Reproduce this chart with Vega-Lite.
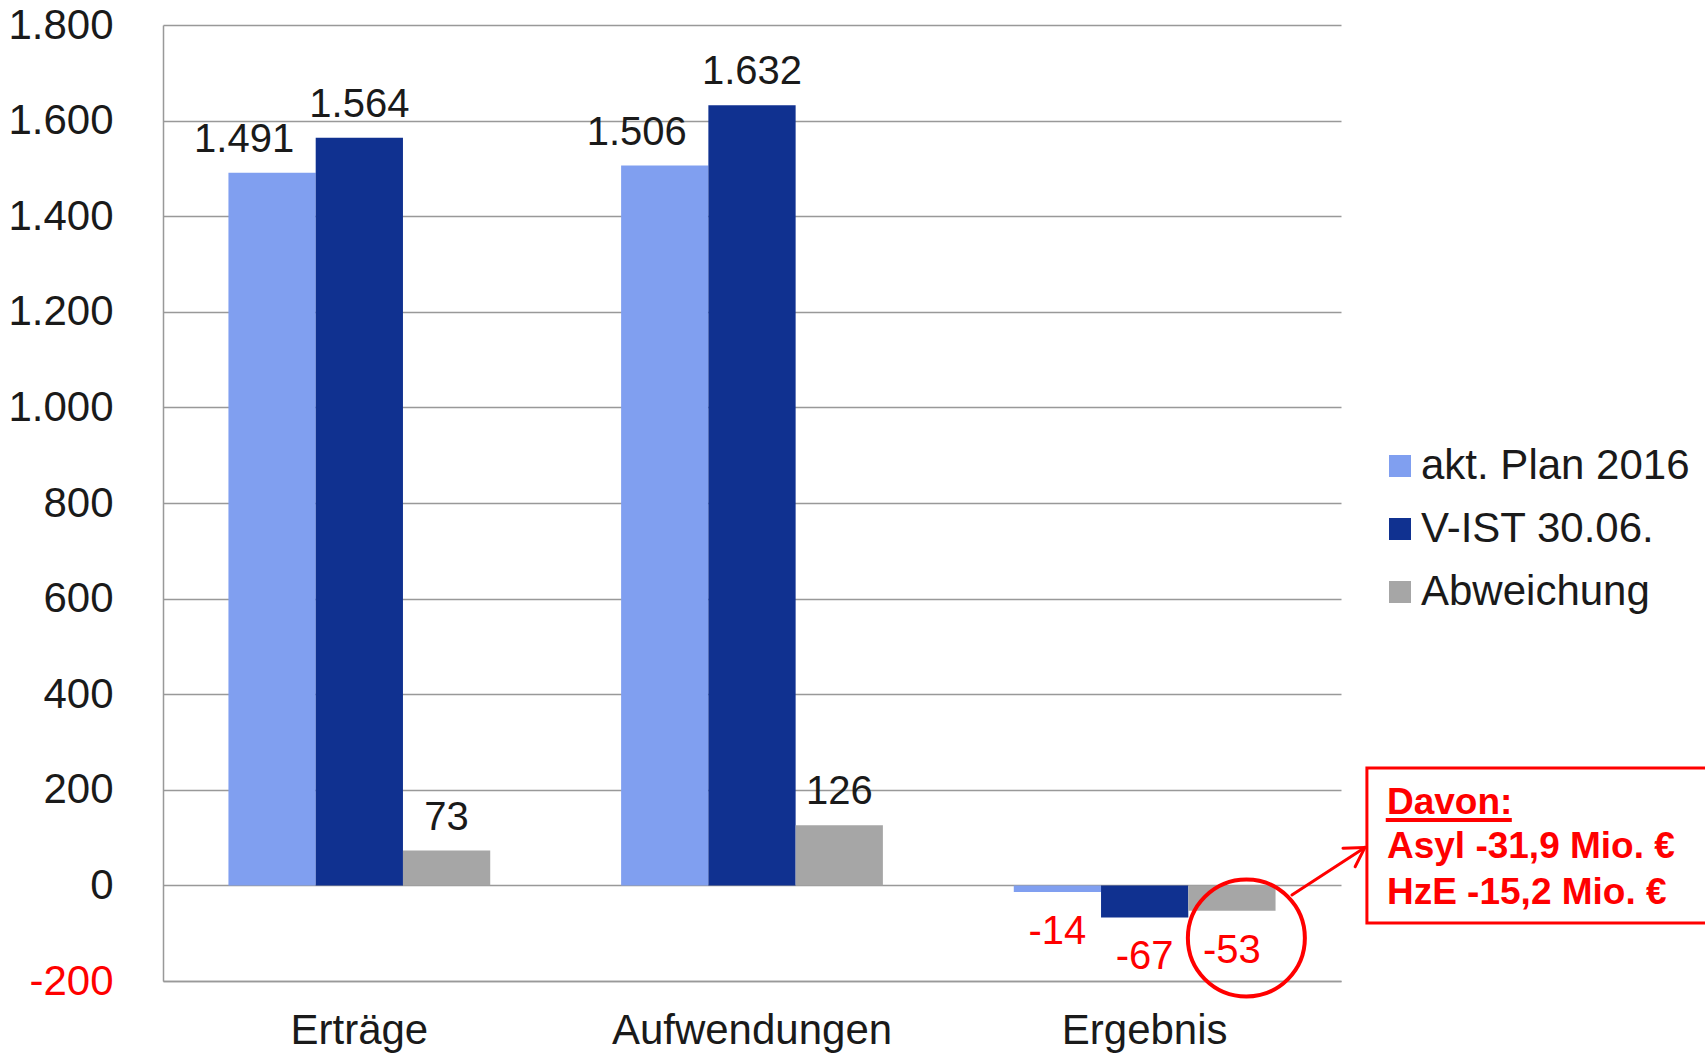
{
  "$schema": "https://vega.github.io/schema/vega-lite/v6.json",
  "width": 1178,
  "height": 956,
  "autosize": {"type": "none"},
  "padding": {"left": 163, "top": 25, "right": 364, "bottom": 73},
  "background": "white",
  "config": {
    "locale": {"number": {"decimal": ",", "thousands": ".", "grouping": [3], "currency": ["", " €"], "minus": "-"}},
    "font": "Liberation Sans",
    "view": {"stroke": null},
    "legend": {
      "orient": "none",
      "legendX": 1216,
      "legendY": 420,
      "direction": "vertical",
      "padding": 0,
      "labelFont": "Liberation Sans",
      "labelFontSize": 42,
      "labelColor": "#1a1a1a",
      "labelOffset": 0,
      "symbolType": "square",
      "symbolSize": 484,
      "symbolStrokeWidth": 0,
      "rowPadding": 21,
      "labelLimit": 400
    }
  },
  "layer": [
    {
      "data": {"values": [
        {"Kategorie": "Erträge", "Reihe": "akt. Plan 2016", "Wert": 1491},
        {"Kategorie": "Erträge", "Reihe": "V-IST 30.06.", "Wert": 1564},
        {"Kategorie": "Erträge", "Reihe": "Abweichung", "Wert": 73},
        {"Kategorie": "Aufwendungen", "Reihe": "akt. Plan 2016", "Wert": 1506},
        {"Kategorie": "Aufwendungen", "Reihe": "V-IST 30.06.", "Wert": 1632},
        {"Kategorie": "Aufwendungen", "Reihe": "Abweichung", "Wert": 126},
        {"Kategorie": "Ergebnis", "Reihe": "akt. Plan 2016", "Wert": -14},
        {"Kategorie": "Ergebnis", "Reihe": "V-IST 30.06.", "Wert": -67},
        {"Kategorie": "Ergebnis", "Reihe": "Abweichung", "Wert": -53}
      ]},
      "encoding": {
        "x": {
          "field": "Kategorie", "type": "nominal",
          "sort": ["Erträge", "Aufwendungen", "Ergebnis"],
          "scale": {"domain": ["Erträge", "Aufwendungen", "Ergebnis"], "paddingInner": 0, "paddingOuter": 0},
          "axis": {
            "title": null, "labelAngle": 0, "ticks": false,
            "domainColor": "#999999", "domainWidth": 1.5,
            "labelFont": "Liberation Sans", "labelFontSize": 42, "labelColor": "#1a1a1a",
            "labelPadding": 29, "labelLimit": 400
          }
        },
        "y": {
          "field": "Wert", "type": "quantitative",
          "scale": {"domain": [-200, 1800], "nice": false, "zero": false},
          "axis": {
            "title": null, "values": [-200, 0, 200, 400, 600, 800, 1000, 1200, 1400, 1600, 1800],
            "format": ",.0f", "ticks": false,
            "domainColor": "#999999", "domainWidth": 1.5,
            "gridColor": "#999999", "gridWidth": 1.5,
            "labelFont": "Liberation Sans", "labelFontSize": 42,
            "labelColor": {"condition": {"test": "datum.value < 0", "value": "#ff0000"}, "value": "#1a1a1a"},
            "labelPadding": 50
          }
        },
        "xOffset": {
          "field": "Reihe", "type": "nominal",
          "sort": ["akt. Plan 2016", "V-IST 30.06.", "Abweichung"],
          "scale": {"domain": ["akt. Plan 2016", "V-IST 30.06.", "Abweichung"], "paddingInner": 0, "paddingOuter": 0.75}
        }
      },
      "layer": [
        {
          "mark": {"type": "bar"},
          "encoding": {
            "color": {
              "field": "Reihe", "type": "nominal",
              "sort": ["akt. Plan 2016", "V-IST 30.06.", "Abweichung"],
              "scale": {"domain": ["akt. Plan 2016", "V-IST 30.06.", "Abweichung"], "range": ["#809FF0", "#103190", "#A6A6A6"]},
              "legend": {"title": null}
            }
          }
        },
        {
          "transform": [{"filter": "datum.Wert > 0 && datum.Reihe == 'akt. Plan 2016'"}],
          "mark": {"type": "text", "baseline": "alphabetic", "dy": -21, "dx": -28, "fontSize": 40, "font": "Liberation Sans", "color": "#1a1a1a"},
          "encoding": {"text": {"field": "Wert", "type": "quantitative", "format": ",.0f"}}
        },
        {
          "transform": [{"filter": "datum.Wert > 0 && datum.Reihe != 'akt. Plan 2016'"}],
          "mark": {"type": "text", "baseline": "alphabetic", "dy": -21, "fontSize": 40, "font": "Liberation Sans", "color": "#1a1a1a"},
          "encoding": {"text": {"field": "Wert", "type": "quantitative", "format": ",.0f"}}
        },
        {
          "transform": [{"filter": "datum.Wert < 0"}],
          "mark": {"type": "text", "baseline": "top", "dy": 20, "fontSize": 40, "font": "Liberation Sans", "color": "#ff0000"},
          "encoding": {"text": {"field": "Wert", "type": "quantitative", "format": ",.0f"}}
        }
      ]
    },
    {
      "layer": [
        {
          "data": {"values": [{"px": 3.066, "px2": 4.0, "py": 245.6, "py2": -78.7}]},
          "mark": {"type": "rect", "fill": null, "fillOpacity": 0, "stroke": "#ff0000", "strokeWidth": 3},
          "encoding": {
            "x": {"field": "px", "type": "quantitative", "scale": {"domain": [0, 3], "nice": false, "zero": false}, "axis": null},
            "x2": {"field": "px2"},
            "y": {"field": "py", "type": "quantitative", "axis": null},
            "y2": {"field": "py2"}
          }
        },
        {
          "data": {"values": [
            {"px": 2.875, "py": -20.1, "px2": 3.061, "py2": 79.5},
            {"px": 3.061, "py": 79.5, "px2": 3.005, "py2": 77.6},
            {"px": 3.061, "py": 79.5, "px2": 3.036, "py2": 39.1}
          ]},
          "mark": {"type": "rule", "stroke": "#ff0000", "strokeWidth": 3, "strokeCap": "round"},
          "encoding": {
            "x": {"field": "px", "type": "quantitative", "scale": {"domain": [0, 3], "nice": false, "zero": false}, "axis": null},
            "x2": {"field": "px2"},
            "y": {"field": "py", "type": "quantitative", "axis": null},
            "y2": {"field": "py2"}
          }
        },
        {
          "data": {"values": [{"px": 3.114, "py": 136.8, "px2": 3.435}]},
          "mark": {"type": "rule", "stroke": "#ff0000", "strokeWidth": 4},
          "encoding": {
            "x": {"field": "px", "type": "quantitative", "scale": {"domain": [0, 3], "nice": false, "zero": false}, "axis": null},
            "x2": {"field": "px2"},
            "y": {"field": "py", "type": "quantitative", "axis": null}
          }
        },
        {
          "data": {"values": [{"px": 2.759, "py": -110}]},
          "mark": {"type": "point", "shape": "circle", "filled": false, "size": 13689, "stroke": "#ff0000", "strokeWidth": 4, "opacity": 1},
          "encoding": {
            "x": {"field": "px", "type": "quantitative", "scale": {"domain": [0, 3], "nice": false, "zero": false}, "axis": null},
            "y": {"field": "py", "type": "quantitative", "axis": null}
          }
        },
        {
          "data": {"values": [
            {"px": 3.117, "py": 149.4, "txt": "Davon:"},
            {"px": 3.117, "py": 57.3, "txt": "Asyl -31,9 Mio. €"},
            {"px": 3.117, "py": -38.9, "txt": "HzE -15,2 Mio. €"}
          ]},
          "mark": {"type": "text", "align": "left", "baseline": "alphabetic", "font": "Liberation Sans", "fontWeight": "bold", "fontSize": 37, "color": "#ff0000"},
          "encoding": {
            "x": {"field": "px", "type": "quantitative", "scale": {"domain": [0, 3], "nice": false, "zero": false}, "axis": null},
            "y": {"field": "py", "type": "quantitative", "axis": null},
            "text": {"field": "txt", "type": "nominal"}
          }
        }
      ]
    }
  ],
  "resolve": {"scale": {"x": "independent"}, "axis": {"x": "independent", "y": "independent"}}
}
